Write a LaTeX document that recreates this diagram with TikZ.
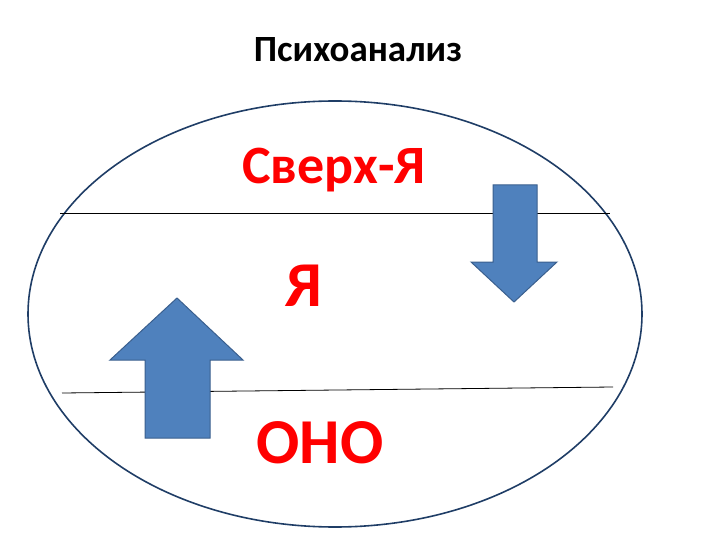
\documentclass[tikz,border=0pt]{standalone}
\usepackage{fontspec}
\setmainfont{Carlito}
\usetikzlibrary{shapes.geometric}
\definecolor{arrowblue}{HTML}{4F81BD}
\definecolor{arrowedge}{HTML}{3A5F8E}
\definecolor{ringblue}{HTML}{1F3D66}
\begin{document}
\begin{tikzpicture}[x=1pt, y=-1pt,
  ring/.style={draw=ringblue, line width=1.6pt, ellipse, minimum width=614pt, minimum height=426pt, inner sep=0pt},
  layer/.style={text=red, inner sep=0pt, anchor=base},
  bigarrow/.style={fill=arrowblue, draw=arrowedge, line width=1pt, line join=miter},
  divider/.style={draw=black, line width=0.8pt},
  title/.style={font=\fontsize{37}{37}\selectfont\bfseries, inner sep=0pt, anchor=base}
]
\useasboundingbox (0,0) rectangle (720,540);

% Title
\node[title] (head) at (358,61.5) {Психоанализ};

% Outer ellipse
\node[ring] (psyche) at (335,314) {};

% Layer dividers
\coordinate (d1l) at (60,213);
\coordinate (d1r) at (610,213);
\coordinate (d2l) at (62,393);
\coordinate (d2r) at (613,387);
\draw[divider] (d1l) -- (d1r);
\draw[divider] (d2l) -- (d2r);

% Layer labels
\node[layer, font=\fontsize{54}{54}\selectfont\bfseries] (super) at (334,184) {Сверх-Я};
\node[layer, font=\fontsize{64}{64}\selectfont\bfseries] (ego) at (304,306) {Я};
\node[layer, font=\fontsize{64}{64}\selectfont\bfseries] (id) at (320,463) {ОНО};

% Arrows
\draw[bigarrow] (493,185) -- (537,185) -- (537,262) -- (557,262) -- (514,302)
  -- (471,262) -- (493,262) -- cycle;
\draw[bigarrow] (145,438) -- (210,438) -- (210,360) -- (243,360) -- (177,298)
  -- (110,360) -- (145,360) -- cycle;

\end{tikzpicture}
\end{document}
